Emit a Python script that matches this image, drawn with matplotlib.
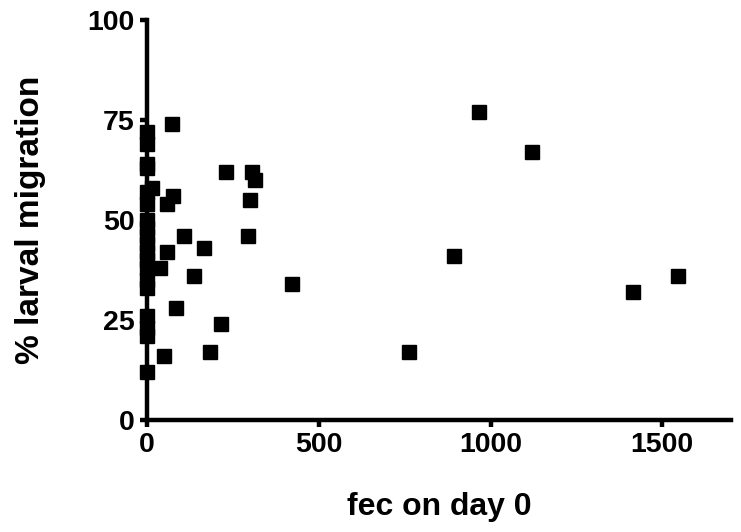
import matplotlib.pyplot as plt

plt.rcParams['font.family'] = ['Liberation Sans', 'DejaVu Sans']
plt.rcParams['font.weight'] = 'bold'

# fec on day 0 vs % larval migration
fec = [0, 0, 0, 0, 0, 0, 0, 0, 0, 0, 0, 0, 0, 0, 0, 0, 0, 0, 0,
       15, 74, 75, 57, 107, 165, 59, 38, 137, 83, 216, 50, 184,
       229, 307, 315, 300, 294, 422, 762, 893, 967, 1121, 1415, 1546]
migration = [72, 69, 64, 63, 57, 54, 50, 48, 46, 44, 42, 40, 38, 35, 33, 26, 23, 21, 12,
             58, 74, 56, 54, 46, 43, 42, 38, 36, 28, 24, 16, 17,
             62, 62, 60, 55, 46, 34, 17, 41, 77, 67, 32, 36]

x_ticks = [0, 500, 1000, 1500]
y_ticks = [0, 25, 50, 75, 100]

fig = plt.figure(figsize=(7.41, 5.32), dpi=100)
ax = fig.add_axes([147 / 741, 112 / 532, 584 / 741, 400 / 532])

ax.plot(fec, migration, linestyle='none', marker='s', markersize=10.5,
        color='black', clip_on=False, zorder=3)

ax.set_xlim(0, 1700)
ax.set_ylim(0, 100)
ax.set_xticks(x_ticks)
ax.set_yticks(y_ticks)

for side in ['top', 'right']:
    ax.spines[side].set_visible(False)
for side in ['left', 'bottom']:
    ax.spines[side].set_linewidth(3.2)
ax.tick_params(width=3.2, length=5, labelsize=20.5, pad=4)

ax.set_xlabel('fec on day 0', fontsize=23, fontweight='bold', labelpad=24)
ax.set_ylabel('% larval migration', fontsize=24, fontweight='bold', labelpad=30)

fig.savefig('out.png', dpi=100)
